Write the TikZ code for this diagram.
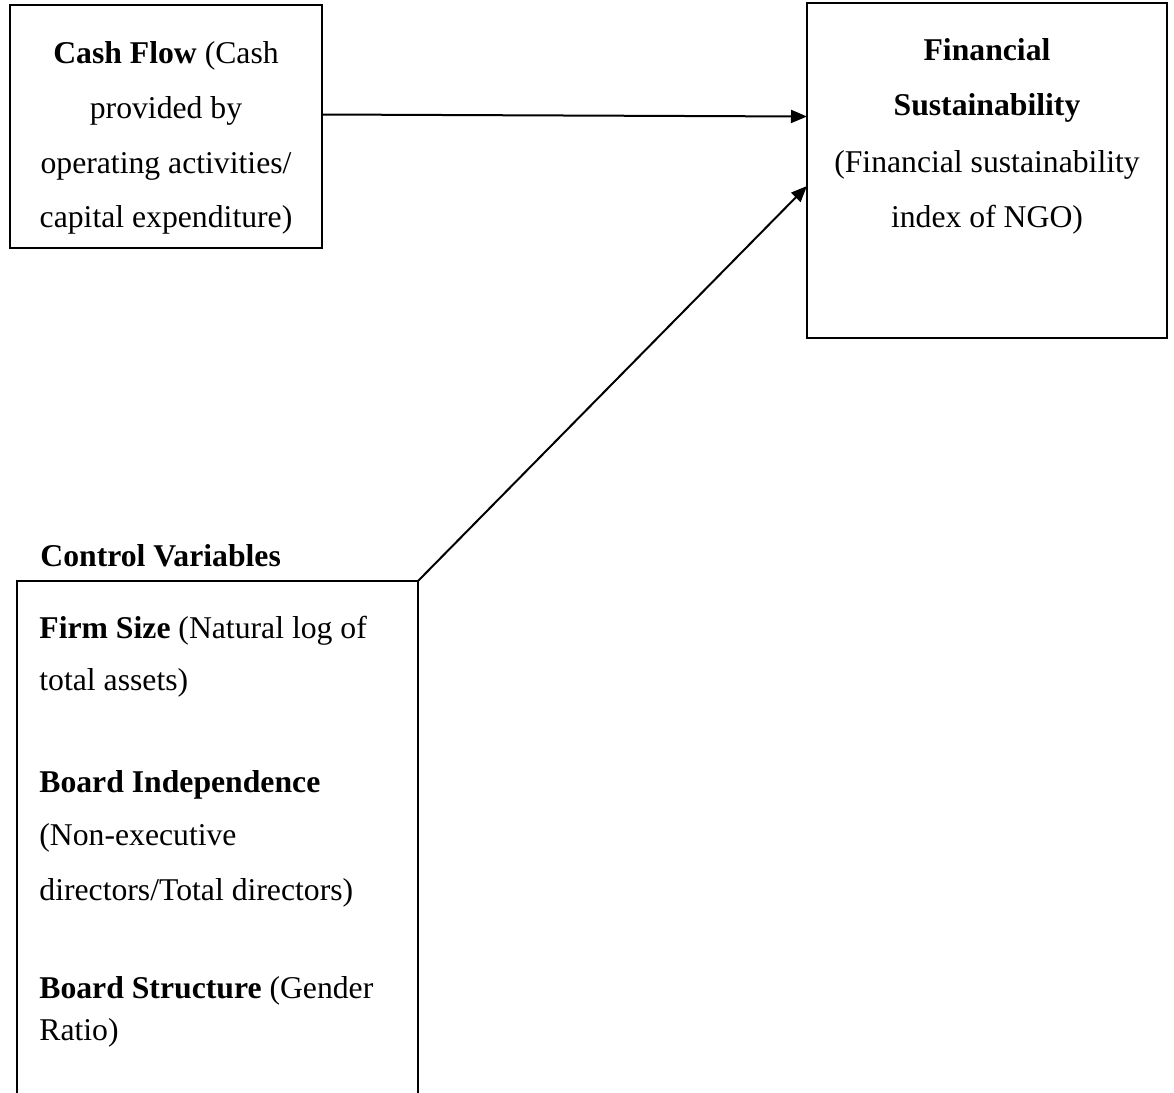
\documentclass[tikz,border=0pt]{standalone}
\usepackage{fontspec}
\setmainfont{Liberation Serif}
\usetikzlibrary{arrows.meta}
\begin{document}
\begin{tikzpicture}[x=0.5pt,y=-0.5pt,
  box/.style={draw, line width=1.2pt, inner sep=0pt, outer sep=0pt, anchor=north west},
  txt/.style={inner sep=0pt, anchor=base, font=\fontsize{15.85}{19}\selectfont},
  ltxt/.style={txt, anchor=base west},
  conn/.style={line width=1pt, -{Triangle[length=8pt,width=6.5pt]}}]
\useasboundingbox (0,0) rectangle (1174,1093);
% boxes
\node[box, minimum width=156pt, minimum height=121.5pt] (cf) at (10,5) {};
\node[box, minimum width=180pt, minimum height=167.5pt] (fs) at (807,3) {};
\node[box, minimum width=200.5pt, minimum height=259.5pt] (cv) at (17,581) {};
% cash flow text
\node[txt] (cf1) at (166,63) {\textbf{Cash Flow} (Cash};
\node[txt] (cf2) at (166,118) {provided by};
\node[txt] (cf3) at (166,173) {operating activities/};
\node[txt] (cf4) at (166,227) {capital expenditure)};
% financial sustainability text
\node[txt] (fs1) at (987,60) {\textbf{Financial}};
\node[txt] (fs2) at (987,115) {\textbf{Sustainability}};
\node[txt] (fs3) at (987,172) {(Financial sustainability};
\node[txt] (fs4) at (987,227) {index of NGO)};
% control variables
\node[ltxt] (cvl) at (40,566) {\textbf{Control Variables}};
\node[ltxt] (cv1) at (39,638) {\textbf{Firm Size} (Natural log of};
\node[ltxt] (cv2) at (39,690) {total assets)};
\node[ltxt] (cv3) at (39,792) {\textbf{Board Independence}};
\node[ltxt] (cv4) at (39,845) {(Non-executive};
\node[ltxt] (cv5) at (39,900) {directors/Total directors)};
\node[ltxt] (cv6) at (39,998) {\textbf{Board Structure} (Gender};
\node[ltxt] (cv7) at (39,1040) {Ratio)};
% connectors
\draw[conn] ([yshift=6pt]cf.east) -- ([yshift=27pt]fs.west);
\draw[conn] (cv.north east) -- ([yshift=-7.75pt]fs.west);
\end{tikzpicture}
\end{document}
